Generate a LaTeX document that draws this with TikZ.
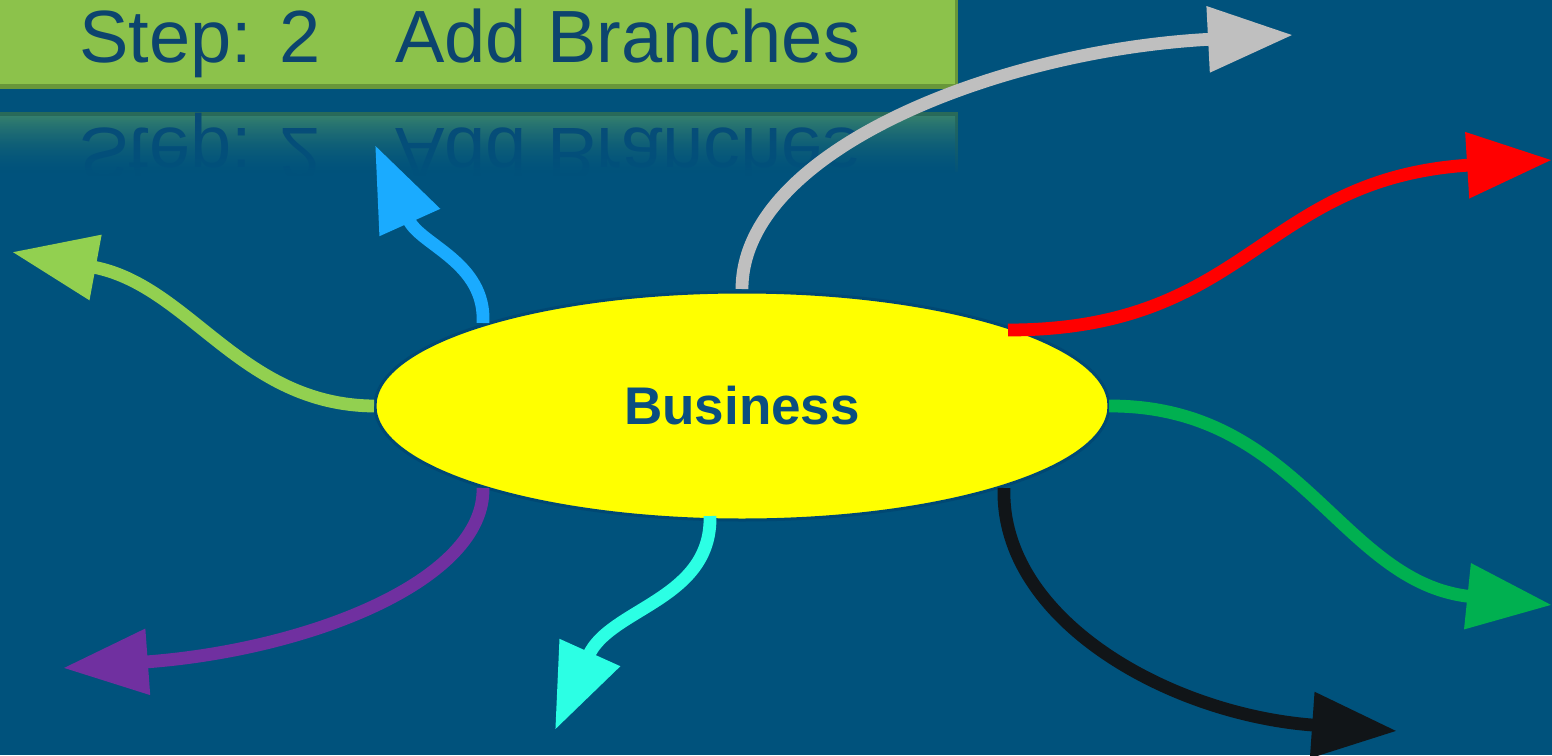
\documentclass[tikz,border=0pt]{standalone}
\usepackage{fontspec}
\setmainfont{Liberation Sans}
\usetikzlibrary{arrows.meta,shapes.geometric,fadings}
\definecolor{bg}{RGB}{0,82,124}
\definecolor{bargreen}{RGB}{140,194,75}
\definecolor{barshadow}{RGB}{104,150,58}
\definecolor{titletext}{RGB}{12,68,110}
\definecolor{refltop}{RGB}{63,136,106}
\definecolor{reflline}{RGB}{48,110,84}
\definecolor{refltext}{RGB}{10,74,118}
\definecolor{bizfill}{RGB}{255,255,0}
\definecolor{bizborder}{RGB}{0,72,115}
\definecolor{biztext}{RGB}{10,78,128}
\definecolor{cgray}{RGB}{191,191,191}
\definecolor{cred}{RGB}{255,0,0}
\definecolor{cgreen}{RGB}{0,176,80}
\definecolor{cblack}{RGB}{17,21,24}
\definecolor{ccyan}{RGB}{44,255,228}
\definecolor{cpurple}{RGB}{112,48,160}
\definecolor{clgreen}{RGB}{146,208,80}
\definecolor{cblue}{RGB}{26,171,255}
\tikzfading[name=fadedown, top color=transparent!100, bottom color=transparent!0]
\begin{document}
\begin{tikzpicture}[x=0.5pt,y=-0.5pt,
  titlestyle/.style={font=\fontsize{37}{40}\selectfont, text=titletext, inner sep=0pt},
  reflstyle/.style={font=\fontsize{37}{40}\selectfont, text=refltext, inner sep=0pt, yscale=-1},
  branch/.style={line width=6.4pt, -{Triangle[length=42.5pt,width=31.5pt]}}]
\fill[bg] (0,0) rectangle (1552,755);
\useasboundingbox (0,0) rectangle (1552,755);
% title bar
\fill[barshadow] (0,0) rectangle (958,89);
\fill[bargreen] (0,0) rectangle (955,84);
\node[titlestyle, anchor=base west] (t1) at (79,62) {Step: 2};
\node[titlestyle, anchor=base west] (t2) at (395,62) {Add Branches};
% reflection
\fill[reflline] (0,112) rectangle (958,172);
\shade[top color=refltop, bottom color=bg!85!refltop] (0,116) rectangle (955,172);
\node[reflstyle, anchor=base west] (r1) at (79,128) {Step: 2};
\node[reflstyle, anchor=base west] (r2) at (395,128) {Add Branches};
\fill[bg, path fading=fadedown] (0,104) rectangle (962,176);
\fill[bg] (0,176) rectangle (962,200);
% central node
\node[ellipse, draw=bizborder, line width=1.5pt, fill=bizfill, minimum width=367pt, minimum height=114pt, inner sep=0pt,
      font=\fontsize{26.5}{30}\selectfont\bfseries, text=biztext] (biz) at (742,406) {Business};
% start points
\coordinate (sGray) at (742,289);
\coordinate (sRed) at (1008,330);
\coordinate (sGreen) at (1109,406);
\coordinate (sBlack) at (1004,488);
\coordinate (sCyan) at (710,516);
\coordinate (sPurple) at (483,488);
\coordinate (sLgreen) at (374,406);
\coordinate (sBlue) at (483,323);
% tips
\coordinate (tGray) at (1293,35);
\coordinate (tRed) at (1552,160);
\coordinate (tGreen) at (1552,605);
\coordinate (tBlack) at (1397,731);
\coordinate (tCyan) at (555,730);
\coordinate (tPurple) at (63,668);
\coordinate (tLgreen) at (12,252);
\coordinate (tBlue) at (375,145);
% branches
\draw[branch, cgray] (sGray) .. controls (742,150) and (1000,50) .. (tGray);
\draw[branch, cred] (sRed) .. controls (1250,330) and (1260,178) .. (tRed);
\draw[branch, cgreen] (sGreen) .. controls (1300,405) and (1340,583) .. (tGreen);
\draw[branch, cblack] (sBlack) .. controls (1000,620) and (1170,715) .. (tBlack);
\draw[branch, ccyan] (sCyan) .. controls (712,600) and (610,608) .. (tCyan);
\draw[branch, cpurple] (sPurple) .. controls (485,580) and (310,650) .. (tPurple);
\draw[branch, clgreen] (sLgreen) .. controls (240,405) and (190,285) .. (tLgreen);
\draw[branch, cblue] (sBlue) .. controls (486,262) and (420,245) .. (tBlue);
\end{tikzpicture}
\end{document}
